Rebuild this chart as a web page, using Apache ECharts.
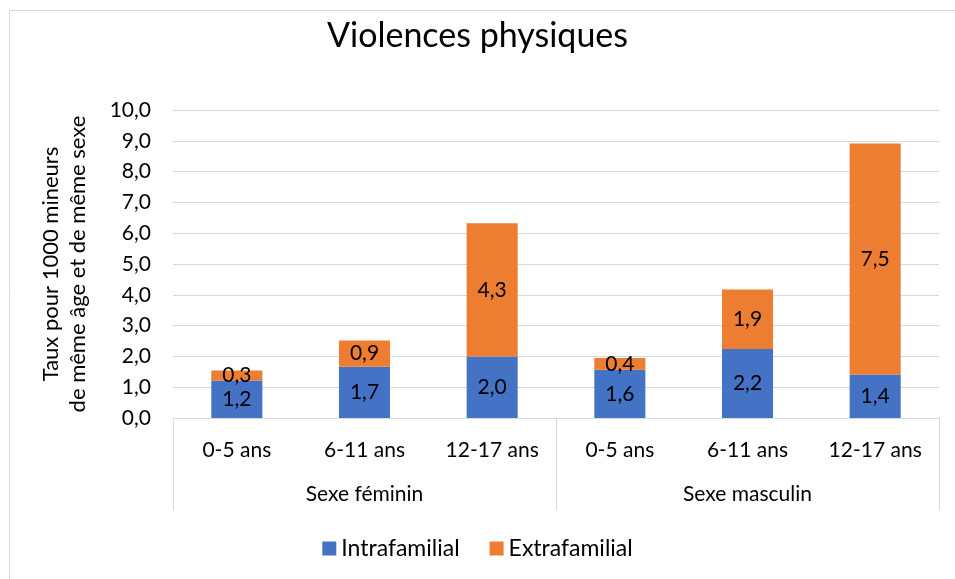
<!DOCTYPE html>
<html>
<head>
<meta charset="utf-8">
<script src="https://cdn.jsdelivr.net/npm/echarts@6/dist/echarts.min.js"></script>
<style>
  html, body { margin: 0; padding: 0; background: #fff; }
  #chart { width: 955px; height: 579px; }
</style>
</head>
<body>
<div id="chart"></div>
<script>
// données (étiquettes arrondies à 1 décimale)
var ageGroups = ['0-5 ans', '6-11 ans', '12-17 ans', '0-5 ans', '6-11 ans', '12-17 ans'];
var sexGroups = ['Sexe féminin', 'Sexe masculin'];
var intrafamilial = [1.22, 1.66, 2.0, 1.57, 2.24, 1.41];
var extrafamilial = [0.32, 0.86, 4.32, 0.38, 1.93, 7.5];

var fontName = 'Lato, "Noto Sans", sans-serif';

function fr(v) {
   return Number(v).toFixed(1).replace('.', ',');
}

var chart = echarts.init(document.getElementById('chart'));

var option = {
   backgroundColor: '#fff',
   textStyle: { fontFamily: fontName },
   title: {
      text: 'Violences physiques',
      left: 'center',
      top: 14,
      textStyle: { fontSize: 34, fontWeight: 'normal', color: '#000', fontFamily: fontName }
   },
   // cadre du graphique
   graphic: [{
      type: 'rect',
      shape: { x: 9.5, y: 10.5, width: 960, height: 600 },
      style: { fill: 'none', stroke: '#d9d9d9', lineWidth: 1 },
      silent: true
   }],
   legend: {
      data: ['Intrafamilial', 'Extrafamilial'],
      left: 'center',
      top: 532,
      icon: 'rect',
      itemWidth: 14,
      itemHeight: 14,
      itemGap: 30,
      textStyle: { fontSize: 23, color: '#000', fontFamily: fontName }
   },
   grid: { left: 173, right: 16, top: 110, bottom: 161 },
   xAxis: [{
      type: 'category',
      data: ageGroups,
      axisLine: { lineStyle: { color: '#d9d9d9' } },
      axisTick: { show: false },
      axisLabel: { fontSize: 21, color: '#000', margin: 22, interval: 0 }
   }, {
      type: 'category',
      data: sexGroups,
      position: 'bottom',
      axisLine: { show: false },
      axisTick: { show: true, length: 92, interval: 0, lineStyle: { color: '#d9d9d9' } },
      axisLabel: { fontSize: 21, color: '#000', margin: 66, interval: 0 },
      splitLine: { show: false }
   }],
   yAxis: {
      type: 'value',
      min: 0,
      max: 10,
      interval: 1,
      name: 'Taux pour 1000 mineurs\nde même âge et de même sexe',
      nameLocation: 'middle',
      nameRotate: 90,
      nameGap: 82,
      nameTextStyle: { fontSize: 22, color: '#000', lineHeight: 27 },
      axisLine: { show: false },
      axisTick: { show: false },
      axisLabel: { fontSize: 21, color: '#000', margin: 22, formatter: fr },
      splitLine: { lineStyle: { color: '#d9d9d9', width: 1 } }
   },
   series: [{
      name: 'Intrafamilial',
      type: 'bar',
      stack: 'total',
      barWidth: '40%',
      data: intrafamilial,
      itemStyle: { color: '#4472C4' },
      label: { show: true, position: 'inside', fontSize: 21, color: '#000', formatter: function (p) { return fr(p.value); } }
   }, {
      name: 'Extrafamilial',
      type: 'bar',
      stack: 'total',
      barWidth: '40%',
      data: extrafamilial,
      itemStyle: { color: '#ED7D31' },
      label: { show: true, position: 'inside', fontSize: 21, color: '#000', formatter: function (p) { return fr(p.value); } }
   }]
};

chart.setOption(option);
</script>
</body>
</html>
